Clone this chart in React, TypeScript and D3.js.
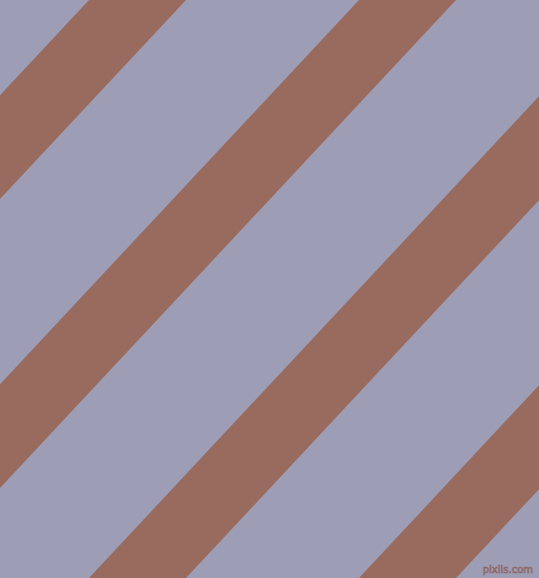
import React, { useEffect, useRef } from "react";
import * as d3 from "d3";

// left edge of each stripe where it meets the top border (px)
const stripeStarts: number[] = [-181, 89, 359, 629, 899];
const stripeWidth = 97; // horizontal width of one stripe
const drift = -540; // horizontal shift of a stripe from top to bottom

const WIDTH = 539;
const HEIGHT = 578;
const BG = "#9d9db6";
const STRIPE = "#996b5f";

export default function App() {
    const ref = useRef<SVGSVGElement | null>(null);

    useEffect(() => {
        const svg = d3.select(ref.current);
        svg.selectAll("*").remove();

        // y position -> horizontal drift of the stripe edge
        const shift = d3.scaleLinear().domain([0, HEIGHT]).range([0, drift]);

        svg.append("rect").attr("width", WIDTH).attr("height", HEIGHT).attr("fill", BG);

        const line = d3
            .line<[number, number]>()
            .x(d => d[0])
            .y(d => d[1]);

        svg.selectAll(".stripe")
            .data(stripeStarts)
            .enter()
            .append("path")
            .attr("class", "stripe")
            .attr("fill", STRIPE)
            .attr("d", x0 => {
                const pts: [number, number][] = [
                    [x0, 0],
                    [x0 + stripeWidth, 0],
                    [x0 + stripeWidth + shift(HEIGHT), HEIGHT],
                    [x0 + shift(HEIGHT), HEIGHT]
                ];
                return line(pts) + "Z";
            });

        svg.append("text")
            .attr("x", WIDTH - 6)
            .attr("y", HEIGHT - 5)
            .attr("text-anchor", "end")
            .attr("font-family", "DejaVu Sans, sans-serif")
            .attr("font-size", 10)
            .attr("fill", "#a89aa8")
            .attr("stroke", "#8a6058")
            .attr("stroke-width", 0.6)
            .text("pixlis.com");
    }, []);

    return (
        <div style={{ position: "fixed", left: 0, top: 0 }}>
            <svg ref={ref} width={WIDTH} height={HEIGHT} style={{ display: "block" }} />
        </div>
    );
}
